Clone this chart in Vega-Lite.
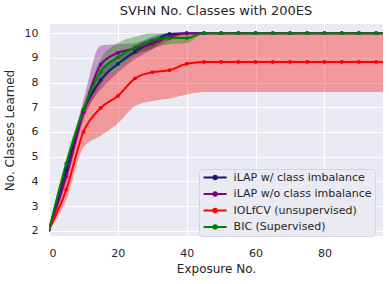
{
  "$schema": "https://vega.github.io/schema/vega-lite/v6.json",
  "width": 334,
  "height": 212,
  "autosize": {"type": "none"},
  "padding": {"left": 49, "top": 24, "right": 6, "bottom": 48},
  "background": "white",
  "config": {
    "font": "DejaVu Sans",
    "view": {"fill": "#EAEAF2", "stroke": null},
    "axis": {
      "domain": false, "ticks": false, "tickSize": 0, "grid": true,
      "gridColor": "white", "gridWidth": 1, "gridOpacity": 1,
      "labelColor": "#262626", "labelFontSize": 11, "labelPadding": 11, "labelOverlap": false,
      "titleColor": "#262626", "titleFontSize": 12, "titleFontWeight": "normal"
    }
  },
  "title": {"text": "SVHN No. Classes with 200ES", "fontSize": 13, "fontWeight": "normal", "color": "#262626", "offset": 6},
  "data": {"values": [
    {"s": "iLAP w/ class imbalance", "x": 0, "y": 2.05, "lo": 2.0, "hi": 2.1},
    {"s": "iLAP w/ class imbalance", "x": 5, "y": 4.45, "lo": 4.2, "hi": 4.65},
    {"s": "iLAP w/ class imbalance", "x": 10, "y": 6.85, "lo": 6.6, "hi": 7.05},
    {"s": "iLAP w/ class imbalance", "x": 15, "y": 8.1, "lo": 7.7, "hi": 8.5},
    {"s": "iLAP w/ class imbalance", "x": 20, "y": 8.75, "lo": 8.4, "hi": 9.1},
    {"s": "iLAP w/ class imbalance", "x": 25, "y": 9.25, "lo": 8.95, "hi": 9.5},
    {"s": "iLAP w/ class imbalance", "x": 30, "y": 9.62, "lo": 9.35, "hi": 9.85},
    {"s": "iLAP w/ class imbalance", "x": 35, "y": 9.97, "lo": 9.85, "hi": 10},
    {"s": "iLAP w/ class imbalance", "x": 40, "y": 10, "lo": 10, "hi": 10},
    {"s": "iLAP w/ class imbalance", "x": 45, "y": 10, "lo": 10, "hi": 10},
    {"s": "iLAP w/ class imbalance", "x": 50, "y": 10, "lo": 10, "hi": 10},
    {"s": "iLAP w/ class imbalance", "x": 55, "y": 10, "lo": 10, "hi": 10},
    {"s": "iLAP w/ class imbalance", "x": 60, "y": 10, "lo": 10, "hi": 10},
    {"s": "iLAP w/ class imbalance", "x": 65, "y": 10, "lo": 10, "hi": 10},
    {"s": "iLAP w/ class imbalance", "x": 70, "y": 10, "lo": 10, "hi": 10},
    {"s": "iLAP w/ class imbalance", "x": 75, "y": 10, "lo": 10, "hi": 10},
    {"s": "iLAP w/ class imbalance", "x": 80, "y": 10, "lo": 10, "hi": 10},
    {"s": "iLAP w/ class imbalance", "x": 85, "y": 10, "lo": 10, "hi": 10},
    {"s": "iLAP w/ class imbalance", "x": 90, "y": 10, "lo": 10, "hi": 10},
    {"s": "iLAP w/ class imbalance", "x": 95, "y": 10, "lo": 10, "hi": 10},
    {"s": "iLAP w/ class imbalance", "x": 100, "y": 10, "lo": 10, "hi": 10},
    {"s": "iLAP w/o class imbalance", "x": 0, "y": 2.05, "lo": 2.0, "hi": 2.1},
    {"s": "iLAP w/o class imbalance", "x": 5, "y": 4.2, "lo": 3.95, "hi": 4.45},
    {"s": "iLAP w/o class imbalance", "x": 10, "y": 6.8, "lo": 6.45, "hi": 7.3},
    {"s": "iLAP w/o class imbalance", "x": 15, "y": 8.72, "lo": 7.9, "hi": 9.5},
    {"s": "iLAP w/o class imbalance", "x": 20, "y": 9.2, "lo": 8.8, "hi": 9.55},
    {"s": "iLAP w/o class imbalance", "x": 25, "y": 9.38, "lo": 9.15, "hi": 9.6},
    {"s": "iLAP w/o class imbalance", "x": 30, "y": 9.57, "lo": 9.35, "hi": 9.8},
    {"s": "iLAP w/o class imbalance", "x": 35, "y": 9.85, "lo": 9.7, "hi": 10},
    {"s": "iLAP w/o class imbalance", "x": 40, "y": 10, "lo": 10, "hi": 10},
    {"s": "iLAP w/o class imbalance", "x": 45, "y": 10, "lo": 10, "hi": 10},
    {"s": "iLAP w/o class imbalance", "x": 50, "y": 10, "lo": 10, "hi": 10},
    {"s": "iLAP w/o class imbalance", "x": 55, "y": 10, "lo": 10, "hi": 10},
    {"s": "iLAP w/o class imbalance", "x": 60, "y": 10, "lo": 10, "hi": 10},
    {"s": "iLAP w/o class imbalance", "x": 65, "y": 10, "lo": 10, "hi": 10},
    {"s": "iLAP w/o class imbalance", "x": 70, "y": 10, "lo": 10, "hi": 10},
    {"s": "iLAP w/o class imbalance", "x": 75, "y": 10, "lo": 10, "hi": 10},
    {"s": "iLAP w/o class imbalance", "x": 80, "y": 10, "lo": 10, "hi": 10},
    {"s": "iLAP w/o class imbalance", "x": 85, "y": 10, "lo": 10, "hi": 10},
    {"s": "iLAP w/o class imbalance", "x": 90, "y": 10, "lo": 10, "hi": 10},
    {"s": "iLAP w/o class imbalance", "x": 95, "y": 10, "lo": 10, "hi": 10},
    {"s": "iLAP w/o class imbalance", "x": 100, "y": 10, "lo": 10, "hi": 10},
    {"s": "IOLfCV (unsupervised)", "x": 0, "y": 2.05, "lo": 2.0, "hi": 2.1},
    {"s": "IOLfCV (unsupervised)", "x": 5, "y": 3.66, "lo": 3.25, "hi": 4.2},
    {"s": "IOLfCV (unsupervised)", "x": 10, "y": 6.0, "lo": 5.37, "hi": 6.8},
    {"s": "IOLfCV (unsupervised)", "x": 15, "y": 6.97, "lo": 5.85, "hi": 8.1},
    {"s": "IOLfCV (unsupervised)", "x": 20, "y": 7.46, "lo": 6.35, "hi": 8.6},
    {"s": "IOLfCV (unsupervised)", "x": 25, "y": 8.17, "lo": 7.05, "hi": 9.3},
    {"s": "IOLfCV (unsupervised)", "x": 30, "y": 8.42, "lo": 7.25, "hi": 9.6},
    {"s": "IOLfCV (unsupervised)", "x": 35, "y": 8.5, "lo": 7.35, "hi": 9.85},
    {"s": "IOLfCV (unsupervised)", "x": 40, "y": 8.76, "lo": 7.52, "hi": 10},
    {"s": "IOLfCV (unsupervised)", "x": 45, "y": 8.83, "lo": 7.62, "hi": 10},
    {"s": "IOLfCV (unsupervised)", "x": 50, "y": 8.83, "lo": 7.62, "hi": 10},
    {"s": "IOLfCV (unsupervised)", "x": 55, "y": 8.83, "lo": 7.62, "hi": 10},
    {"s": "IOLfCV (unsupervised)", "x": 60, "y": 8.83, "lo": 7.62, "hi": 10},
    {"s": "IOLfCV (unsupervised)", "x": 65, "y": 8.83, "lo": 7.62, "hi": 10},
    {"s": "IOLfCV (unsupervised)", "x": 70, "y": 8.83, "lo": 7.62, "hi": 10},
    {"s": "IOLfCV (unsupervised)", "x": 75, "y": 8.83, "lo": 7.62, "hi": 10},
    {"s": "IOLfCV (unsupervised)", "x": 80, "y": 8.83, "lo": 7.62, "hi": 10},
    {"s": "IOLfCV (unsupervised)", "x": 85, "y": 8.83, "lo": 7.62, "hi": 10},
    {"s": "IOLfCV (unsupervised)", "x": 90, "y": 8.83, "lo": 7.62, "hi": 10},
    {"s": "IOLfCV (unsupervised)", "x": 95, "y": 8.83, "lo": 7.62, "hi": 10},
    {"s": "IOLfCV (unsupervised)", "x": 100, "y": 8.83, "lo": 7.62, "hi": 10},
    {"s": "BIC (Supervised)", "x": 0, "y": 2.05, "lo": 2.0, "hi": 2.1},
    {"s": "BIC (Supervised)", "x": 5, "y": 4.71, "lo": 4.5, "hi": 4.95},
    {"s": "BIC (Supervised)", "x": 10, "y": 6.9, "lo": 6.7, "hi": 7.1},
    {"s": "BIC (Supervised)", "x": 15, "y": 8.45, "lo": 8.1, "hi": 8.95},
    {"s": "BIC (Supervised)", "x": 20, "y": 9.02, "lo": 8.6, "hi": 9.6},
    {"s": "BIC (Supervised)", "x": 25, "y": 9.42, "lo": 9.1, "hi": 9.85},
    {"s": "BIC (Supervised)", "x": 30, "y": 9.7, "lo": 9.4, "hi": 10},
    {"s": "BIC (Supervised)", "x": 35, "y": 9.8, "lo": 9.55, "hi": 10},
    {"s": "BIC (Supervised)", "x": 40, "y": 9.8, "lo": 9.6, "hi": 10},
    {"s": "BIC (Supervised)", "x": 45, "y": 10, "lo": 10, "hi": 10},
    {"s": "BIC (Supervised)", "x": 50, "y": 10, "lo": 10, "hi": 10},
    {"s": "BIC (Supervised)", "x": 55, "y": 10, "lo": 10, "hi": 10},
    {"s": "BIC (Supervised)", "x": 60, "y": 10, "lo": 10, "hi": 10},
    {"s": "BIC (Supervised)", "x": 65, "y": 10, "lo": 10, "hi": 10},
    {"s": "BIC (Supervised)", "x": 70, "y": 10, "lo": 10, "hi": 10},
    {"s": "BIC (Supervised)", "x": 75, "y": 10, "lo": 10, "hi": 10},
    {"s": "BIC (Supervised)", "x": 80, "y": 10, "lo": 10, "hi": 10},
    {"s": "BIC (Supervised)", "x": 85, "y": 10, "lo": 10, "hi": 10},
    {"s": "BIC (Supervised)", "x": 90, "y": 10, "lo": 10, "hi": 10},
    {"s": "BIC (Supervised)", "x": 95, "y": 10, "lo": 10, "hi": 10},
    {"s": "BIC (Supervised)", "x": 100, "y": 10, "lo": 10, "hi": 10}
  ]},
  "encoding": {
    "x": {"field": "x", "type": "quantitative",
      "scale": {"domain": [0, 97], "nice": false, "zero": false},
      "axis": {"values": [0, 20, 40, 60, 80], "title": "Exposure No.", "titlePadding": 5}},
    "color": {"field": "s", "type": "nominal",
      "scale": {"domain": ["iLAP w/ class imbalance", "iLAP w/o class imbalance", "IOLfCV (unsupervised)", "BIC (Supervised)"],
                "range": ["#191970", "#800080", "#ff0000", "#008000"]},
      "legend": {
        "title": null, "orient": "none", "legendX": 150, "legendY": 145,
        "symbolType": "M-3,0H3M-0.45,0a0.45,0.45 0 1,0 0.9,0a0.45,0.45 0 1,0 -0.9,0",
        "symbolSize": 59, "symbolStrokeWidth": 2, "symbolOffset": 7.6,
        "labelFontSize": 11, "labelColor": "#262626", "labelOffset": 13,
        "fillColor": "#EAEAF2", "strokeColor": "#d4d4dc", "cornerRadius": 3,
        "padding": 3, "rowPadding": 3.5,
        "encode": {"symbols": {"update": {
          "fill": {"scale": "color", "field": "value"},
          "stroke": {"scale": "color", "field": "value"},
          "opacity": {"value": 1}, "fillOpacity": {"value": 1}, "strokeOpacity": {"value": 1}}}}
      }}
  },
  "layer": [
    {"mark": {"type": "area", "interpolate": "monotone", "opacity": 0.35, "clip": true},
     "encoding": {
       "y": {"field": "lo", "type": "quantitative",
         "scale": {"domain": [1.79, 10.37], "nice": false, "zero": false},
         "axis": {"values": [2, 3, 4, 5, 6, 7, 8, 9, 10], "title": "No. Classes Learned", "titlePadding": 8}},
       "y2": {"field": "hi"}}},
    {"mark": {"type": "line", "interpolate": "monotone", "strokeWidth": 2, "clip": true},
     "encoding": {"y": {"field": "y", "type": "quantitative",
         "scale": {"domain": [1.79, 10.37], "nice": false, "zero": false},
         "axis": {"values": [2, 3, 4, 5, 6, 7, 8, 9, 10], "title": "No. Classes Learned", "titlePadding": 8}}}},
    {"mark": {"type": "point", "filled": true, "size": 15, "opacity": 1, "clip": true},
     "encoding": {"y": {"field": "y", "type": "quantitative",
         "scale": {"domain": [1.79, 10.37], "nice": false, "zero": false},
         "axis": {"values": [2, 3, 4, 5, 6, 7, 8, 9, 10], "title": "No. Classes Learned", "titlePadding": 8}}}}
  ]
}
